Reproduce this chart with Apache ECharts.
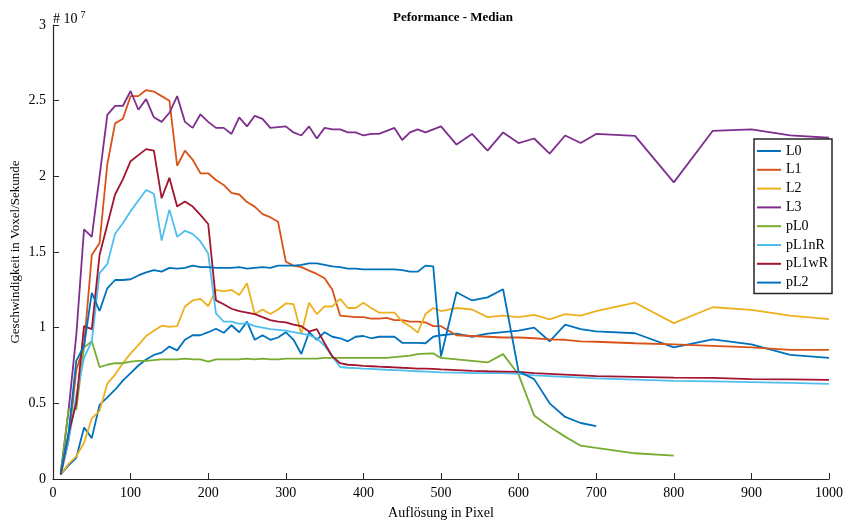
<!DOCTYPE html>
<html>
<head>
<meta charset="utf-8">
<script src="https://cdn.jsdelivr.net/npm/echarts@6/dist/echarts.min.js"></script>
<style>html,body{margin:0;padding:0;background:#fff;}#c{width:845px;height:524px;}</style>
</head>
<body>
<div id="c"></div>
<script>
// x positions (pixels)
const xs = [10,20,30,40,50,60,70,80,90,100,110,120,130,140,150,160,170,180,190,200,
  210,220,230,240,250,260,270,280,290,300,310,320,330,340,350,360,370,380,390,400,
  410,420,430,440,450,460,470,480,490,500,520,540,560,580,600,620,640,660,680,700,
  750,800,850,900,950,1000];
// values in units of 10^7 voxel/s
const L0 = [0.03,0.09,0.14,0.34,0.27,0.49,0.54,0.59,0.65,0.70,0.75,0.79,0.82,0.835,0.875,0.85,0.92,0.95,0.95,0.97,
  0.993,0.966,1.016,0.97,1.04,0.92,0.95,0.92,0.935,0.97,0.92,0.826,0.97,0.92,0.97,0.94,0.93,0.91,0.94,0.945,
  0.93,0.94,0.94,0.94,0.90,0.90,0.90,0.897,0.94,0.95,0.96,0.94,0.96,0.97,0.98,1.0,0.91,1.02,0.99,0.975,
  0.963,0.87,0.923,0.89,0.82,0.80];
const L1 = [0.03,0.25,0.72,0.88,1.48,1.56,2.08,2.35,2.38,2.53,2.53,2.57,2.56,2.53,2.50,2.07,2.17,2.11,2.02,2.02,
  1.976,1.943,1.89,1.88,1.83,1.80,1.75,1.73,1.70,1.436,1.41,1.40,1.377,1.355,1.326,1.25,1.08,1.075,1.07,1.07,
  1.06,1.06,1.065,1.05,1.05,1.04,1.04,1.035,1.01,1.01,0.95,0.945,0.94,0.935,0.935,0.93,0.923,0.92,0.91,0.907,
  0.897,0.89,0.88,0.87,0.853,0.853];
const L2 = [0.03,0.10,0.15,0.24,0.40,0.45,0.63,0.69,0.765,0.83,0.885,0.945,0.98,1.013,1.005,1.01,1.14,1.18,1.19,1.143,
  1.25,1.24,1.25,1.216,1.293,1.09,1.12,1.09,1.12,1.16,1.155,0.958,1.165,1.09,1.14,1.14,1.19,1.13,1.13,1.165,
  1.13,1.10,1.10,1.10,1.04,1.01,0.967,1.09,1.13,1.11,1.13,1.12,1.07,1.08,1.07,1.085,1.055,1.09,1.08,1.11,
  1.165,1.03,1.135,1.117,1.08,1.057];
const L3 = [0.04,0.45,0.95,1.65,1.60,2.00,2.406,2.465,2.465,2.564,2.44,2.51,2.39,2.36,2.42,2.53,2.36,2.32,2.41,2.36,
  2.32,2.32,2.28,2.39,2.33,2.40,2.38,2.32,2.325,2.33,2.29,2.27,2.33,2.25,2.32,2.31,2.31,2.29,2.29,2.27,
  2.28,2.28,2.30,2.32,2.24,2.29,2.31,2.29,2.31,2.33,2.21,2.28,2.17,2.29,2.22,2.25,2.15,2.27,2.22,2.28,
  2.267,1.96,2.30,2.31,2.27,2.255];
const pL0 = [0.03,0.46,0.46,0.87,0.91,0.74,0.755,0.765,0.765,0.775,0.78,0.78,0.785,0.79,0.79,0.79,0.795,0.79,0.79,0.775,
  0.79,0.79,0.79,0.79,0.795,0.79,0.795,0.79,0.79,0.795,0.795,0.795,0.795,0.795,0.80,0.80,0.80,0.80,0.80,0.80,
  0.80,0.80,0.80,0.805,0.81,0.815,0.825,0.828,0.83,0.80,0.79,0.78,0.77,0.825,0.69,0.42,0.345,0.28,0.22,0.205,
  0.17,0.155];
const pL1nR = [0.03,0.25,0.55,0.80,0.91,1.36,1.42,1.62,1.69,1.77,1.84,1.91,1.885,1.575,1.78,1.60,1.64,1.62,1.57,1.49,
  1.095,1.04,1.04,1.025,1.03,1.01,1.00,0.99,0.985,0.98,0.97,0.96,0.95,0.93,0.88,0.81,0.74,0.735,0.733,0.73,
  0.728,0.725,0.722,0.72,0.718,0.715,0.712,0.71,0.708,0.705,0.703,0.70,0.70,0.70,0.695,0.685,0.68,0.675,0.67,0.665,
  0.657,0.648,0.645,0.64,0.635,0.628];
const pL1wR = [0.03,0.30,0.50,1.01,0.99,1.48,1.68,1.88,1.98,2.10,2.14,2.18,2.17,1.855,1.99,1.80,1.833,1.80,1.745,1.685,
  1.18,1.155,1.125,1.11,1.10,1.09,1.07,1.05,1.04,1.035,1.02,1.01,0.974,0.99,0.897,0.81,0.765,0.755,0.752,0.748,
  0.745,0.742,0.74,0.738,0.735,0.733,0.73,0.73,0.728,0.725,0.72,0.715,0.712,0.71,0.708,0.70,0.695,0.69,0.685,0.68,
  0.675,0.67,0.668,0.66,0.658,0.655];
const pL2 = [0.04,0.30,0.78,0.88,1.23,1.11,1.26,1.315,1.315,1.32,1.345,1.365,1.38,1.37,1.395,1.39,1.395,1.41,1.40,1.40,
  1.395,1.395,1.395,1.40,1.39,1.395,1.40,1.395,1.41,1.41,1.41,1.415,1.425,1.425,1.415,1.405,1.40,1.39,1.39,1.385,
  1.385,1.385,1.385,1.385,1.38,1.37,1.37,1.41,1.405,0.81,1.234,1.18,1.20,1.254,0.71,0.66,0.50,0.41,0.37,0.35];
const names = ['L0','L1','L2','L3','pL0','pL1nR','pL1wR','pL2'];
const values = [L0,L1,L2,L3,pL0,pL1nR,pL1wR,pL2];
const colors = ['#0072BD','#D95319','#EDB120','#7E2F8E','#77AC30','#4DBEEE','#A2142F','#0072BD'];
const xTickLabels = ['0','100','200','300','400','500','600','700','800','900','1000'];
const yTickLabels = ['0','0.5','1','1.5','2','2.5','3'];

const FONT = '"Liberation Serif", "Times New Roman", serif';
const chart = echarts.init(document.getElementById('c'), null, {renderer:'canvas'});
const series = names.map((n,i)=>({
  name:n, type:'line', showSymbol:false, symbol:'none',
  data: values[i].map((v,j)=>[xs[j], v]),
  lineStyle:{color:colors[i], width:1.8}, itemStyle:{color:colors[i]},
  animation:false
}));
chart.setOption({
  animation:false,
  backgroundColor:'#fff',
  title:{text:'Peformance - Median', left:448, top:6, textAlign:'center',
    textStyle:{fontFamily:FONT, fontSize:13, fontWeight:'bold', color:'#000'}},
  grid:{left:53, top:25, width:776, height:454, containLabel:false, outerBoundsMode:'none'},
  xAxis:{type:'value', min:0, max:1000, interval:100,
    name:'Auflösung in Pixel', nameLocation:'middle', nameGap:27, nameMoveOverlap:false,
    nameTextStyle:{fontFamily:FONT, fontSize:14, color:'#000'},
    axisLine:{lineStyle:{color:'#262626', width:1.2}},
    axisTick:{inside:true, length:6, lineStyle:{color:'#262626'}},
    axisLabel:{fontFamily:FONT, fontSize:14, color:'#000', margin:7,
      formatter:(v)=> xTickLabels[Math.round(v/100)]},
    splitLine:{show:false}},
  yAxis:{type:'value', min:0, max:3, interval:0.5,
    name:'Geschwindigkeit in Voxel/Sekunde', nameLocation:'middle', nameGap:31, nameMoveOverlap:false,
    nameTextStyle:{fontFamily:FONT, fontSize:13, color:'#000'},
    axisLine:{show:true, lineStyle:{color:'#262626', width:1.2}},
    axisTick:{show:true, inside:true, length:6, lineStyle:{color:'#262626'}},
    axisLabel:{fontFamily:FONT, fontSize:14, color:'#000', margin:7,
      formatter:(v)=> yTickLabels[Math.round(v*2)]},
    splitLine:{show:false}},
  legend:{orient:'vertical', left:754, top:139, icon:'rect', itemWidth:24, itemHeight:2,
    itemGap:2.8, padding:[4,4,3,3],
    backgroundColor:'#fff', borderColor:'#262626', borderWidth:1.5, borderRadius:0,
    textStyle:{fontFamily:FONT, fontSize:14, color:'#000', lineHeight:16},
    data:names},
  graphic:[{type:'text', left:53, top:10,
    style:{text:'{a|# 10}{b|7}', rich:{a:{fontFamily:FONT, fontSize:14, fill:'#000'}, b:{fontFamily:FONT, fontSize:10, fill:'#000', verticalAlign:'top', padding:[0,0,9,3]}}}}],
  series: series
});
</script>
</body>
</html>
